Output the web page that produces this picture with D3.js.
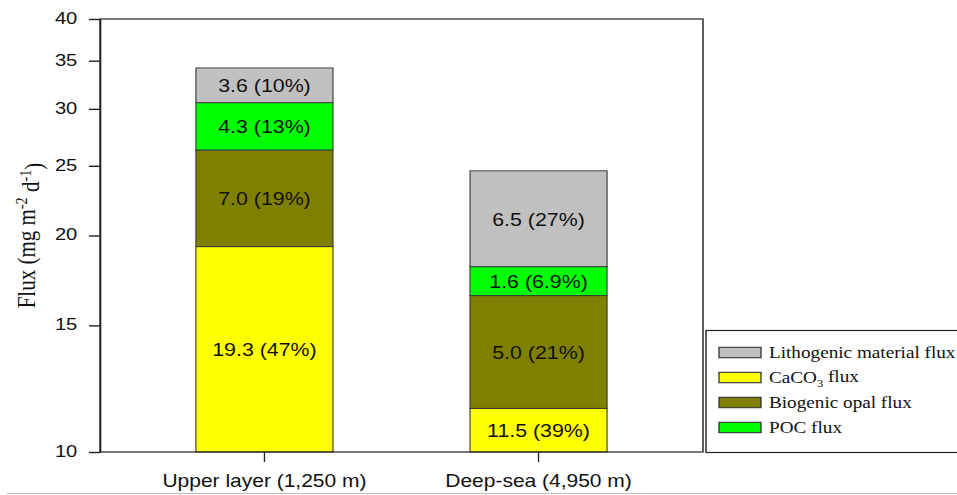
<!DOCTYPE html>
<html>
<head>
<meta charset="utf-8">
<script src="https://cdn.jsdelivr.net/npm/d3@7"></script>
<style>
  html, body { margin: 0; padding: 0; background: #fff; overflow: hidden; }
  svg { display: block; }
</style>
</head>
<body>
<svg id="chart"></svg>
<script>
// Sediment-trap flux components at two depths (mg m-2 d-1)
const categories = ["Upper layer (1,250 m)", "Deep-sea (4,950 m)"];
const caco3Flux = [19.3, 11.5];
const opalFlux  = [7.0, 5.0];
const pocFlux   = [4.3, 1.6];
const lithoFlux = [3.6, 6.5];
const caco3Pct = ["47%", "39%"];
const opalPct  = ["19%", "21%"];
const pocPct   = ["13%", "6.9%"];
const lithoPct = ["10%", "27%"];
const yTicks = [10, 15, 20, 25, 30, 35, 40];

// stacking order, bottom to top
const keys = ["caco3", "opal", "poc", "litho"];
const colors = { caco3: "#ffff00", opal: "#808000", poc: "#00ff00", litho: "#c0c0c0" };
const pcts = { caco3: caco3Pct, opal: opalPct, poc: pocPct, litho: lithoPct };
// legend order, top to bottom
const legendKeys = ["litho", "caco3", "opal", "poc"];

const rows = categories.map((c, i) => ({
  cat: c, idx: i,
  caco3: caco3Flux[i], opal: opalFlux[i], poc: pocFlux[i], litho: lithoFlux[i]
}));

// The figure is drawn in a narrower frame and stretched sideways.
const W = 957, H = 495, SX = 1.2, IW = W / SX;
const svg = d3.select("#chart")
  .attr("width", W).attr("height", H)
  .attr("viewBox", `0 0 ${IW} ${H}`)
  .attr("preserveAspectRatio", "none");

const plot = { left: 83.33, right: 585.83, top: 19, bottom: 452 };
const sans = "'Liberation Sans', Arial, sans-serif";
const serif = "'Liberation Serif', 'Times New Roman', serif";

const x = d3.scaleBand().domain(categories)
  .range([plot.left, plot.right]).paddingInner(0.5).paddingOuter(0.35);
const y = d3.scaleLog().domain([10, 40]).range([plot.bottom, plot.top]);

// page edge rule at the bottom
svg.append("line").attr("x1", 7 / SX).attr("x2", IW).attr("y1", 493.5).attr("y2", 493.5)
  .attr("stroke", "#bdbdbd").attr("stroke-width", 1.2);

// stacked bars
const series = d3.stack().keys(keys)(rows);
const segG = svg.append("g");
series.forEach(s => {
  s.forEach(d => {
    const lo = Math.max(d[0], 10), hi = d[1];
    const cat = d.data.cat, i = d.data.idx;
    segG.append("rect")
      .attr("x", x(cat)).attr("width", x.bandwidth())
      .attr("y", y(hi)).attr("height", y(lo) - y(hi))
      .attr("fill", colors[s.key])
      .attr("stroke", "#333").attr("stroke-width", 0.9);
    segG.append("text")
      .attr("x", x(cat) + x.bandwidth() / 2)
      .attr("y", (y(lo) + y(hi)) / 2)
      .attr("dy", "0.38em")
      .attr("text-anchor", "middle")
      .attr("font-family", sans).attr("font-size", 17.8).attr("fill", "#111")
      .text(`${d3.format(".1f")(d.data[s.key])} (${pcts[s.key][i]})`);
  });
});

// plot frame
svg.append("rect")
  .attr("x", plot.left).attr("y", plot.top)
  .attr("width", plot.right - plot.left).attr("height", plot.bottom - plot.top)
  .attr("fill", "none").attr("stroke", "#222").attr("stroke-width", 1.2);

// y axis (log)
const yAxis = svg.append("g").attr("transform", `translate(${plot.left},0)`)
  .call(d3.axisLeft(y).tickValues(yTicks).tickFormat(d3.format("d"))
    .tickSize(9.2).tickSizeOuter(0).tickPadding(9.7));
yAxis.select(".domain").attr("stroke", "#222").attr("stroke-width", 1.2);
yAxis.selectAll(".tick line").attr("stroke", "#222").attr("stroke-width", 1.4);
yAxis.selectAll(".tick text").attr("font-family", sans).attr("font-size", 16.8)
  .attr("fill", "#111").attr("dy", "0.26em");

// x axis
const xAxis = svg.append("g").attr("transform", `translate(0,${plot.bottom})`)
  .call(d3.axisBottom(x).tickSize(10).tickSizeOuter(0).tickPadding(12.3));
xAxis.select(".domain").remove();
xAxis.selectAll(".tick line").attr("stroke", "#222").attr("stroke-width", 1.1);
xAxis.selectAll(".tick text").attr("font-family", sans).attr("font-size", 17.5).attr("fill", "#111");

// y axis title
const yt = svg.append("text")
  .attr("transform", `translate(${29.2},${(plot.top + plot.bottom) / 2}) rotate(-90)`)
  .attr("text-anchor", "middle")
  .attr("font-family", serif).attr("font-size", 21).attr("fill", "#111");
yt.append("tspan").text("Flux (mg m");
yt.append("tspan").attr("dy", "-0.45em").attr("font-size", "0.68em").text("-2");
yt.append("tspan").attr("dy", "0.45em").text(" d");
yt.append("tspan").attr("dy", "-0.45em").attr("font-size", "0.68em").text("-1");
yt.append("tspan").attr("dy", "0.45em").text(")");

// legend
const lg = svg.append("g");
lg.append("rect")
  .attr("x", 706 / SX).attr("y", 330.5)
  .attr("width", IW).attr("height", 122)
  .attr("fill", "#fff").attr("stroke", "#222").attr("stroke-width", 1.2);
const legendLabels = {
  litho: ["Lithogenic material flux"],
  caco3: ["CaCO", "3", " flux"],
  opal: ["Biogenic opal flux"],
  poc: ["POC flux"]
};
const rowY = d3.scalePoint().domain(legendKeys).range([352.5, 427.5]);
legendKeys.forEach(k => {
  const cy = rowY(k);
  lg.append("rect")
    .attr("x", 719 / SX).attr("y", cy - 5.2)
    .attr("width", 42 / SX).attr("height", 10.4)
    .attr("fill", colors[k]).attr("stroke", "#333").attr("stroke-width", 1.1);
  const t = lg.append("text")
    .attr("x", 769 / SX).attr("y", cy + 6)
    .attr("font-family", serif).attr("font-size", 16).attr("fill", "#111");
  const parts = legendLabels[k];
  if (parts.length === 1) {
    t.text(parts[0]);
  } else {
    t.append("tspan").text(parts[0]);
    t.append("tspan").attr("dy", "0.3em").attr("font-size", "0.65em").text(parts[1]);
    t.append("tspan").attr("dy", "-0.3em").text(parts[2]);
  }
});
</script>
</body>
</html>
